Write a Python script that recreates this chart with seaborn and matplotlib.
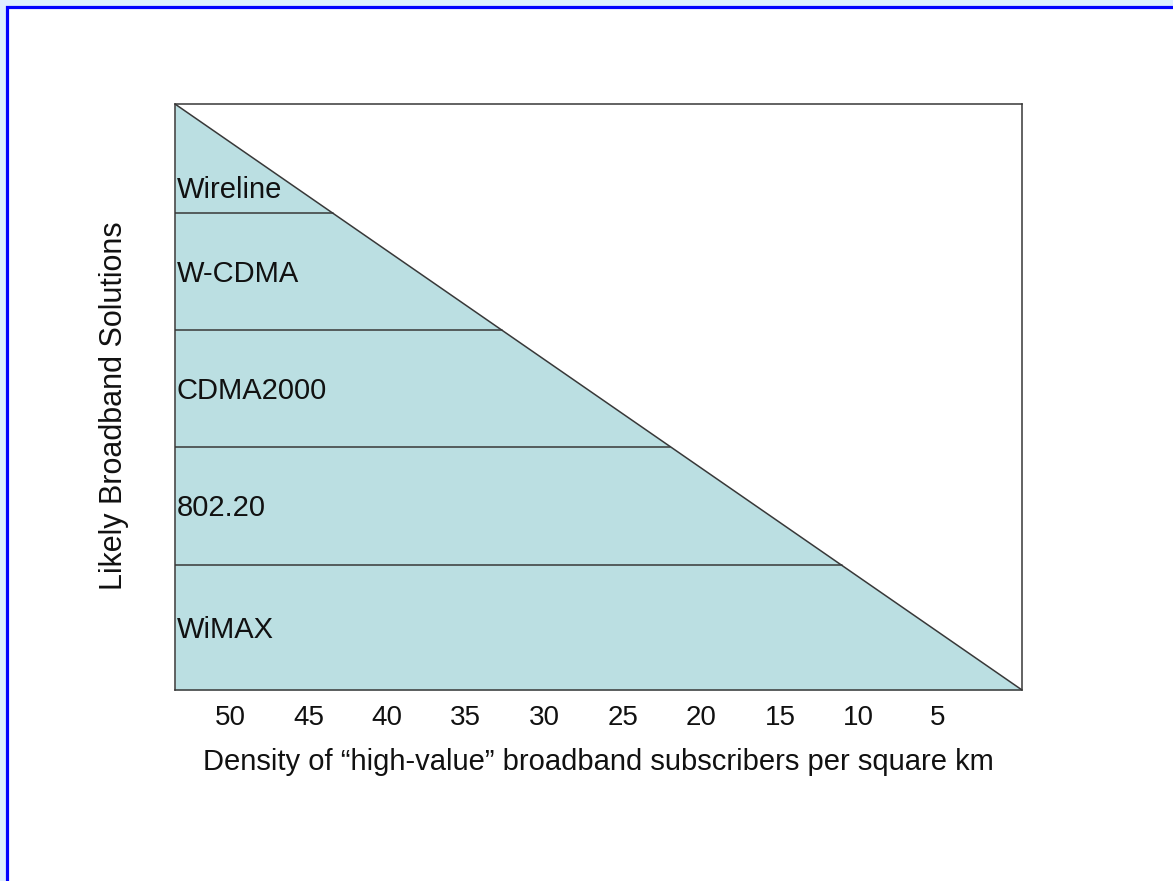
import matplotlib
matplotlib.use("Agg")
import matplotlib.pyplot as plt
from matplotlib.patches import Rectangle
import numpy as np
import seaborn as sns

# Density axis (subscribers per square km), read right-to-left
density_ticks = [50, 45, 40, 35, 30, 25, 20, 15, 10, 5]
density_range = [53.5, -0.4]          # density at the left and right ends of the slope

# Solution bands stacked bottom-to-top on a 0-100 level scale
solutions = ["WiMAX", "802.20", "CDMA2000", "W-CDMA", "Wireline"]
band_edges = [0, 21.3, 41.5, 61.4, 81.4, 100]
slope_levels = [100, 0]               # level of the slope at the two density ends

sns.set_theme(style="white")
plt.rcParams["font.family"] = ["Liberation Sans", "DejaVu Sans"]

fig = plt.figure(figsize=(11.73, 8.81), dpi=100)
fig.patch.set_facecolor("#DDEEFF")

# page frame, kept behind the chart
page = Rectangle((7 / 1173, -0.1), 1.2, 1.1 - 7 / 881,
                 transform=fig.transFigure, facecolor="white",
                 edgecolor="#0000FF", linewidth=2.3, zorder=-10)
fig.patches.append(page)

ax = fig.add_axes([175 / 1173, 1 - 690 / 881, 847 / 1173, 586 / 881])
ax.set_zorder(5)
ax.set_facecolor("white")

xs = np.array(density_range, dtype=float)
ys = np.array(slope_levels, dtype=float)

fill_col = "#BBDFE2"
edge_col = "#383838"
text_col = "#111111"

ax.fill_between(xs, 0, ys, color=fill_col, lw=0, zorder=1)
sns.lineplot(x=xs, y=ys, ax=ax, color=edge_col, lw=1.1, sort=False,
             estimator=None, zorder=3)

# band separators run from the left edge until they meet the slope
for lvl in band_edges[1:-1]:
    x_end = np.interp(lvl, ys[::-1], xs[::-1])
    ax.plot([xs[0], x_end], [lvl, lvl], color=edge_col, lw=1.1, zorder=3)

for i, name in enumerate(solutions):
    lo, hi = band_edges[i], band_edges[i + 1]
    y = (lo + hi) / 2 if i < len(solutions) - 1 else lo + 0.23 * (hi - lo)
    ax.text(xs[0] - 0.12, y - 0.4, name, ha="left", va="center", fontsize=21,
            color=text_col, zorder=4)

ax.set_xlim(*density_range)
ax.set_ylim(0, 100)
ax.set_xticks(density_ticks)
ax.set_xticklabels([str(t) for t in density_ticks])
ax.set_yticks([])
ax.tick_params(axis="x", length=0, pad=11, labelsize=20, labelcolor=text_col)

for sp in ax.spines.values():
    sp.set_color(edge_col)
    sp.set_linewidth(1.1)

ax.set_xlabel("Density of \u201chigh-value\u201d broadband subscribers per square km",
              fontsize=21, color=text_col, labelpad=12)
ax.set_ylabel("Likely Broadband Solutions", fontsize=22, color=text_col)
ax.yaxis.set_label_coords(-0.054, 0.486)

fig.savefig("out.png", dpi=100, facecolor=fig.get_facecolor())
